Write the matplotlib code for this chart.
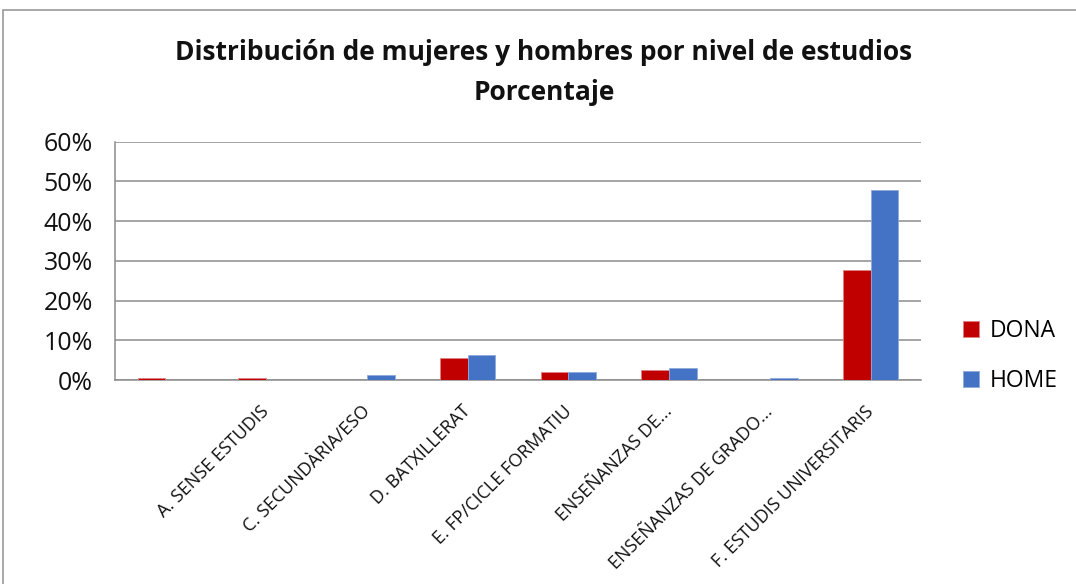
import numpy as np
import matplotlib.pyplot as plt
import matplotlib.transforms as mtransforms
from matplotlib.patches import Rectangle
from matplotlib.ticker import PercentFormatter

# categorias (la primera no tiene etiqueta en el original)
categorias = ['', 'A. SENSE ESTUDIS', 'C. SECUNDÀRIA/ESO', 'D. BATXILLERAT',
              'E. FP/CICLE FORMATIU', 'ENSEÑANZAS DE...', 'ENSEÑANZAS DE GRADO...',
              'F. ESTUDIS UNIVERSITARIS']
dona = [0.5, 0.5, 0.0, 5.6, 1.9, 2.5, 0.0, 27.7]
home = [0.0, 0.0, 1.3, 6.2, 1.9, 3.0, 0.6, 47.8]
yticks = [0, 10, 20, 30, 40, 50, 60]

plt.rcParams['font.family'] = ['Open Sans', 'DejaVu Sans']

W, H = 1076, 584
fig = plt.figure(figsize=(W / 100, H / 100), dpi=100)
ax = fig.add_axes([115 / W, 1 - 380 / H, (921 - 115) / W, (380 - 141.7) / H])

x = np.arange(len(categorias))
ancho = 0.275
ax.bar(x - ancho / 2, dona, ancho, color='#C00000', edgecolor='#e08080', linewidth=0.6,
       label='DONA', zorder=3)
ax.bar(x + ancho / 2, home, ancho, color='#4472C4', edgecolor='#8fa9dc', linewidth=0.6,
       label='HOME', zorder=3)

ax.set_xlim(-0.5, len(categorias) - 0.5)
ax.set_ylim(0, 60)
ax.set_yticks(yticks)
ax.yaxis.set_major_formatter(PercentFormatter(decimals=0))
ax.grid(axis='y', color='#8c8c8c', linewidth=1.1, zorder=0)
for s in ['top', 'right']:
    ax.spines[s].set_visible(False)
ax.spines['left'].set_color('#8c8c8c')
ax.spines['bottom'].set_color('#8c8c8c')
ax.spines['left'].set_linewidth(1.1)
ax.spines['bottom'].set_linewidth(1.1)

ax.tick_params(axis='y', length=0, pad=16, labelsize=18, labelcolor='#111111')
ax.set_xticks(x)
ax.set_xticklabels(categorias, rotation=45, ha='right', va='top',
                   rotation_mode='anchor', fontsize=13, color='#111111')
ax.tick_params(axis='x', length=0, pad=16)
# pequeño desplazamiento a la izquierda, como en el original
desplaz = mtransforms.ScaledTranslation(-6 / 100, 0, fig.dpi_scale_trans)
for etiqueta in ax.get_xticklabels():
    etiqueta.set_transform(etiqueta.get_transform() + desplaz)

fig.text(544 / W, 1 - 52 / H, 'Distribución de mujeres y hombres por nivel de estudios',
         ha='center', va='center', fontsize=19, fontweight='bold', color='#111111')
fig.text(544 / W, 1 - 92 / H, 'Porcentaje',
         ha='center', va='center', fontsize=19, fontweight='bold', color='#111111')

fig.legend(loc='upper left', bbox_to_anchor=(942 / W, 1 - 298 / H), frameon=False,
           fontsize=16.5, handlelength=0.7, handleheight=0.7, handletextpad=0.5,
           labelspacing=1.15)

# marco del grafico
fig.patches.append(Rectangle((3 / W, -0.1), 1.2, 1 - 10 / H + 0.1,
                             transform=fig.transFigure, fill=False,
                             edgecolor='#9a9a9a', linewidth=1.2))

fig.savefig('out.png', dpi=100)
